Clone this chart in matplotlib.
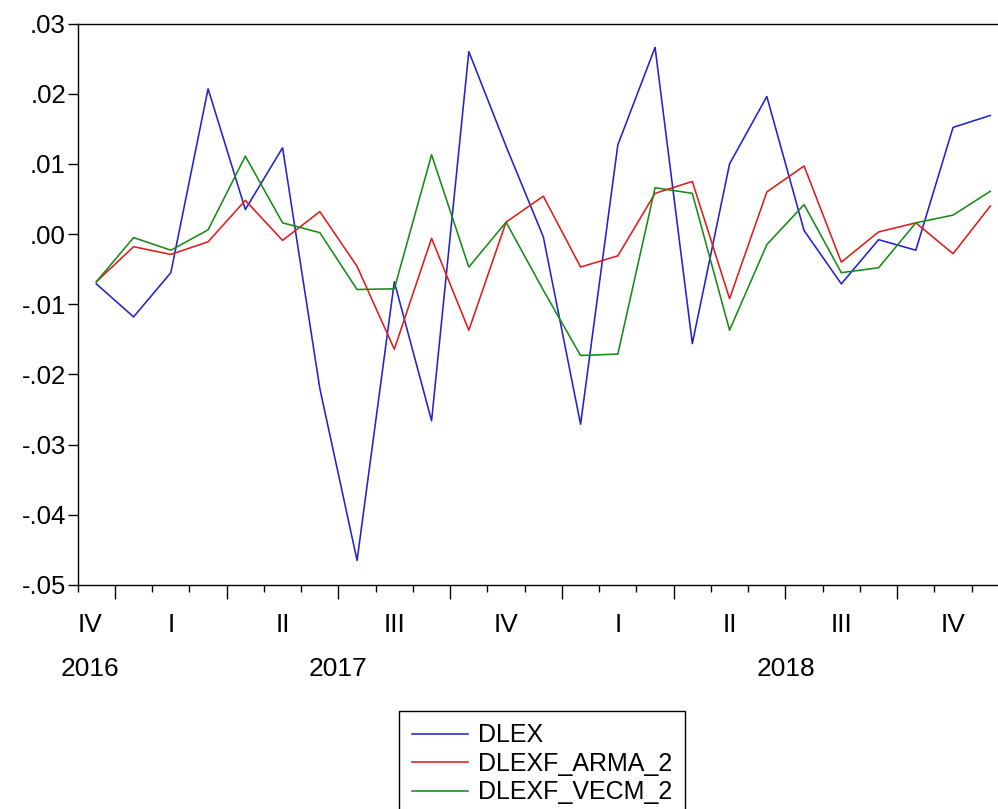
import matplotlib
matplotlib.use("Agg")
import matplotlib.pyplot as plt
import matplotlib.transforms as mtransforms
from matplotlib.ticker import FixedLocator, FuncFormatter, NullFormatter
import numpy as np
import pandas as pd

# Monthly observations, Dec 2016 - Dec 2018
periods = pd.period_range("2016-12", "2018-12", freq="M")

dlex = [-0.0071, -0.0118, -0.0055, 0.0207, 0.0035, 0.0123, -0.0220, -0.0465,
        -0.0068, -0.0266, 0.0260, 0.0125, -0.0004, -0.0271, 0.0127, 0.0266,
        -0.0156, 0.0100, 0.0196, 0.0005, -0.0071, -0.0008, -0.0023, 0.0152,
        0.0169]
dlexf_arma_2 = [-0.0068, -0.0018, -0.0029, -0.0011, 0.0048, -0.0009, 0.0032,
                -0.0046, -0.0164, -0.0006, -0.0137, 0.0017, 0.0054, -0.0047,
                -0.0031, 0.0058, 0.0075, -0.0092, 0.0060, 0.0097, -0.0040,
                0.0003, 0.0016, -0.0028, 0.0040]
dlexf_vecm_2 = [-0.0068, -0.0005, -0.0023, 0.0006, 0.0111, 0.0016, 0.0002,
                -0.0079, -0.0078, 0.0113, -0.0047, 0.0017, -0.0080, -0.0173,
                -0.0171, 0.0066, 0.0058, -0.0137, -0.0015, 0.0042, -0.0055,
                -0.0048, 0.0016, 0.0027, 0.0061]

series_names = ["DLEX", "DLEXF_ARMA_2", "DLEXF_VECM_2"]
series_colors = ["#2222cc", "#e01c1c", "#178a17"]
roman = {1: "I", 2: "II", 3: "III", 4: "IV"}
y_ticks = [0.03, 0.02, 0.01, 0.00, -0.01, -0.02, -0.03, -0.04, -0.05]

plt.rcParams["font.family"] = ["Liberation Sans", "DejaVu Sans"]

W, H = 998, 809
fig = plt.figure(figsize=(W / 100, H / 100), dpi=100)
left_px, top_px, bottom_px = 77.7, 23.5, 585.0
n = len(periods)
month_w = 37.25
ax_w = n * month_w
ax = fig.add_axes([left_px / W, 1 - bottom_px / H, ax_w / W, (bottom_px - top_px) / H])

x = np.arange(n)
for vals, name, col in zip([dlex, dlexf_arma_2, dlexf_vecm_2], series_names, series_colors):
    ax.plot(x, vals, color=col, lw=1.15, label=name)

ax.set_xlim(-0.5, n - 0.5)
ax.set_ylim(-0.05, 0.03)

for s in ax.spines.values():
    s.set_linewidth(1.0)
    s.set_color("black")

# y axis
ax.set_yticks(y_ticks)
ax.yaxis.set_major_formatter(FuncFormatter(
    lambda v, p: f"{v:.2f}".replace("0.", ".", 1)))
ax.tick_params(axis="y", direction="out", length=7, width=1.0,
               labelsize=18.5, pad=1.5, colors="black")

# x axis: month boundaries (minor) and quarter boundaries (major)
months = np.array([p.month for p in periods])
bounds = np.arange(n + 1) - 0.5
q_bounds = [b for b, i in zip(bounds[:-1], range(n)) if months[i] in (1, 4, 7, 10)]
ax.xaxis.set_major_locator(FixedLocator(q_bounds))
ax.xaxis.set_minor_locator(FixedLocator(bounds))
ax.xaxis.set_major_formatter(NullFormatter())
ax.tick_params(axis="x", which="major", direction="out", length=10, width=1.0)
ax.tick_params(axis="x", which="minor", direction="out", length=5, width=1.0)

# quarter and year labels
quarters = pd.Series(x, index=[(p.year, p.quarter) for p in periods])
years = pd.Series(x, index=[p.year for p in periods])
q_trans = mtransforms.offset_copy(ax.get_xaxis_transform(), fig=fig, y=-40, units="dots")
y_trans = mtransforms.offset_copy(ax.get_xaxis_transform(), fig=fig, y=-84, units="dots")
edge_shift = 0.17
for key in dict.fromkeys(quarters.index):
    idx = quarters[[k == key for k in quarters.index]].values
    pos = idx.mean() if len(idx) > 1 else idx[0] - edge_shift
    ax.text(pos, 0, roman[key[1]], transform=q_trans, ha="center", va="center",
            fontsize=19, clip_on=False)
for yr in dict.fromkeys(years.index):
    idx = years[years.index == yr].values
    pos = idx.mean() if len(idx) > 1 else idx[0] - edge_shift
    ax.text(pos, 0, str(yr), transform=y_trans, ha="center", va="center",
            fontsize=19, clip_on=False)

leg = fig.legend(loc="upper center", bbox_to_anchor=(542 / W, 1 - 711 / H),
                 fontsize=18.0, frameon=True, fancybox=False, shadow=False,
                 framealpha=1, edgecolor="black", handlelength=2.25,
                 handletextpad=0.42, labelspacing=0.18, borderpad=0.5,
                 borderaxespad=0)
leg.get_frame().set_linewidth(1.0)

fig.savefig("out.png", dpi=100)
